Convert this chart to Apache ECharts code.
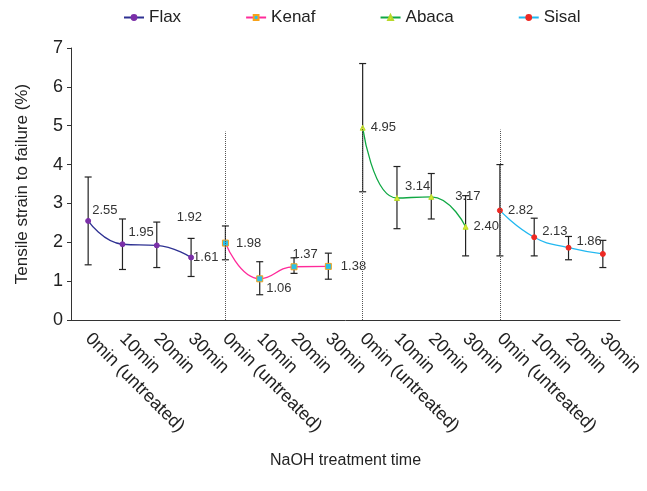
<!DOCTYPE html>
<html>
<head>
<meta charset="utf-8">
<script src="https://cdn.jsdelivr.net/npm/echarts@6/dist/echarts.min.js"></script>
<style>html,body{margin:0;background:#fff}#c{width:647px;height:491px}</style>
</head>
<body>
<div id="c"></div>
<script>
const categories = [
  "0min (untreated)", "10min", "20min", "30min",
  "0min (untreated)", "10min", "20min", "30min",
  "0min (untreated)", "10min", "20min", "30min",
  "0min (untreated)", "10min", "20min", "30min"
];
const names = ["Flax", "Kenaf", "Abaca", "Sisal"];
const means = [
  [2.55, 1.95, 1.92, 1.61],
  [1.98, 1.06, 1.37, 1.38],
  [4.95, 3.14, 3.17, 2.40],
  [2.82, 2.13, 1.86, 1.70]
];
const errHigh = [
  [3.68, 2.60, 2.52, 2.10],
  [2.42, 1.50, 1.60, 1.72],
  [6.60, 3.95, 3.77, 3.20],
  [4.00, 2.62, 2.15, 2.05]
];
const errLow = [
  [1.42, 1.30, 1.35, 1.12],
  [1.55, 0.65, 1.20, 1.05],
  [3.30, 2.35, 2.60, 1.65],
  [1.65, 1.65, 1.55, 1.35]
];
const labelTexts = [
  ["2.55", "1.95", "1.92", "1.61"],
  ["1.98", "1.06", "1.37", "1.38"],
  ["4.95", "3.14", "3.17", "2.40"],
  ["2.82", "2.13", "1.86", ""]
];
// label offsets per point (picture has them shifted around)
const labelOffsets = [
  [[-4, -10], [-2, -12], [12, -28], [-6, 0]],
  [[2, 0], [-2, 10], [-10, -12], [4, 0]],
  [[0, 0], [0, -12], [16, 0], [0, 0]],
  [[0, 0], [0, -6], [0, -6], [0, 0]]
];
const lineColors = ["#2e3192", "#ff2a9a", "#10a844", "#22b8f0"];
const markerColors = ["#7b2fa8", "#f7a21b", "#b8d82a", "#ee2a24"];
const markerFill = ["#7b2fa8", "#29c0e8", "#d8ea30", "#ee2a24"];
const symbols = ["circle", "rect", "triangle", "circle"];

const chart = echarts.init(document.getElementById("c"));
const series = [];
names.forEach((n, s) => {
  const data = categories.map(() => null);
  means[s].forEach((v, i) => {
    data[s * 4 + i] = {
      value: v,
      label: {
        show: labelTexts[s][i] !== "",
        formatter: labelTexts[s][i],
        position: "right",
        offset: labelOffsets[s][i],
        fontSize: 13,
        color: "#333",
        fontFamily: "Liberation Sans"
      }
    };
  });
  series.push({
    name: n,
    type: "line",
    smooth: true,
    data: data,
    symbol: symbols[s],
    symbolSize: s === 1 ? 6 : 5,
    lineStyle: { color: lineColors[s], width: 1.3 },
    itemStyle: { color: markerFill[s], borderColor: markerColors[s], borderWidth: 1 },
    z: 3
  });
});
const errData = [];
names.forEach((n, s) => {
  means[s].forEach((v, i) => errData.push([s * 4 + i, errLow[s][i], errHigh[s][i]]));
});
series.push({
  type: "custom",
  z: 2,
  data: errData,
  renderItem: (params, api) => {
    const lo = api.coord([api.value(0), api.value(1)]);
    const hi = api.coord([api.value(0), api.value(2)]);
    const w = 3.5;
    const st = { stroke: "#222", lineWidth: 1.2 };
    return {
      type: "group",
      children: [
        { type: "line", shape: { x1: lo[0], y1: lo[1], x2: hi[0], y2: hi[1] }, style: st },
        { type: "line", shape: { x1: lo[0] - w, y1: lo[1], x2: lo[0] + w, y2: lo[1] }, style: st },
        { type: "line", shape: { x1: hi[0] - w, y1: hi[1], x2: hi[0] + w, y2: hi[1] }, style: st }
      ]
    };
  },
  markLine: {
    silent: true,
    symbol: "none",
    label: { show: false },
    lineStyle: { color: "#555", type: "dotted", width: 1 },
    data: [
      [{ coord: [3.5, 0] }, { coord: [3.5, 4.85] }],
      [{ coord: [7.5, 0] }, { coord: [7.5, 4.95] }],
      [{ coord: [11.5, 0] }, { coord: [11.5, 4.9] }]
    ]
  }
});

chart.setOption({
  animation: false,
  textStyle: { fontFamily: "Liberation Sans" },
  legend: {
    data: names.map((n, s) => ({ name: n, itemStyle: { color: markerFill[s], borderColor: markerColors[s] } })),
    top: 4,
    left: 118,
    itemGap: 64,
    itemWidth: 20,
    itemHeight: 6,
    textStyle: { fontSize: 17, color: "#222" }
  },
  grid: { left: 71, right: 27, top: 48, bottom: 171 },
  xAxis: {
    type: "category",
    data: categories,
    boundaryGap: true,
    axisLine: { lineStyle: { color: "#333" } },
    axisTick: { lineStyle: { color: "#333" } },
    axisLabel: { rotate: -45, interval: 0, fontSize: 18, color: "#222", margin: 16 },
    name: "NaOH treatment time",
    nameLocation: "middle",
    nameGap: 133,
    nameTextStyle: { fontSize: 16, color: "#222" }
  },
  yAxis: {
    type: "value",
    min: 0,
    max: 7,
    interval: 1,
    splitLine: { show: false },
    axisLine: { show: true, lineStyle: { color: "#333" } },
    axisTick: { show: true, length: 4, lineStyle: { color: "#333" } },
    axisLabel: { fontSize: 18, color: "#222" },
    name: "Tensile strain to failure (%)",
    nameLocation: "middle",
    nameGap: 40,
    nameTextStyle: { fontSize: 17, color: "#222" }
  },
  series: series
});
</script>
</body>
</html>
